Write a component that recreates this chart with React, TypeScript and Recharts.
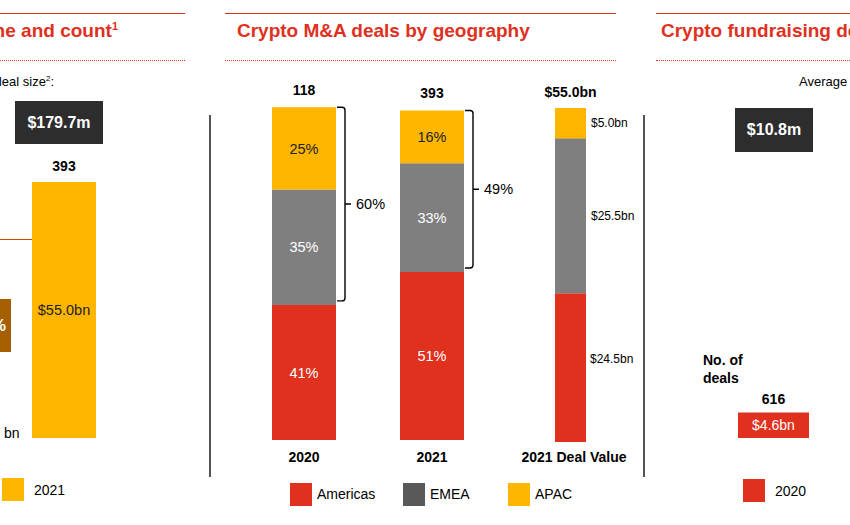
import React from 'react';
import { BarChart, Bar, XAxis, YAxis, LabelList, Rectangle } from 'recharts';

const RED = '#e0301e';
const YELLOW = '#ffb600';
const GRAY = '#7f7f7f';
const EMEA_LEGEND = '#595959';
const DARK = '#2d2d2d';
const BROWN = '#a65f00';
const LINE_ORANGE = '#d04a02';
const FONT = '"Liberation Sans", Arial, sans-serif';

// Middle panel: M&A deals by geography (share of deal count)
const geoCategories = ['2020', '2021'];
const americasShare = [41, 51];
const emeaShare = [35, 33];
const apacShare = [25, 16];
const dealCounts = [118, 393];

// Middle panel: 2021 deal value by geography ($bn)
const valueCategories = ['2021 Deal Value'];
const americasValue = [24.5];
const emeaValue = [25.5];
const apacValue = [5.0];
const valueTotals = ['$55.0bn'];

// Left panel (partial): M&A deal value and count
const mnaCategories = ['2021'];
const mnaValue = [55.0];
const mnaCount = [393];

// Right panel (partial): fundraising deal value and count
const fundCategories = ['2020'];
const fundValue = [4.6];
const fundCount = [616];

const legendItems = [
  { name: 'Americas', color: RED },
  { name: 'EMEA', color: EMEA_LEGEND },
  { name: 'APAC', color: YELLOW },
];

const geoData = geoCategories.map((name, i) => ({
  name,
  americas: americasShare[i],
  emea: emeaShare[i],
  apac: apacShare[i],
  count: dealCounts[i],
}));

const valueData = valueCategories.map((name, i) => ({
  name,
  americas: americasValue[i],
  emea: emeaValue[i],
  apac: apacValue[i],
  total: valueTotals[i],
}));

const mnaData = mnaCategories.map((name, i) => ({ name, value: mnaValue[i], count: mnaCount[i] }));
const fundData = fundCategories.map((name, i) => ({ name, value: fundValue[i], count: fundCount[i] }));

const EmeaWithBracket = (props: any) => {
  const { x, y, width, height, fill, payload } = props;
  const unit = height / payload.emea;
  const top = y - payload.apac * unit;
  const bottom = y + height - 4;
  const x0 = x + width + 1;
  const bx = x + width + 9;
  const mid = (top + bottom) / 2;
  const r = 3;
  const d = `M ${x0} ${top} L ${bx - r} ${top} Q ${bx} ${top} ${bx} ${top + r} L ${bx} ${bottom - r} Q ${bx} ${bottom} ${bx - r} ${bottom} L ${x0} ${bottom} M ${bx} ${mid} L ${bx + 6} ${mid}`;
  return (
    <g>
      <Rectangle x={x} y={y} width={width} height={height} fill={fill} />
      <path d={d} stroke="#000" strokeWidth={1.4} fill="none" />
      <text x={x + width + 20} y={mid} dominantBaseline="central" fontSize={14.5} fill="#000">
        {payload.apac + payload.emea}%
      </text>
    </g>
  );
};

const topLabel = (offset: number) => (p: any) => (
  <text
    x={Number(p.x) + Number(p.width) / 2}
    y={Number(p.y) - offset}
    textAnchor="middle"
    fontWeight="bold"
    fontSize={14}
    fill="#000"
  >
    {p.value}
  </text>
);

const abs = (left: number, top: number, extra: React.CSSProperties = {}): React.CSSProperties => ({
  position: 'absolute',
  left,
  top,
  ...extra,
});

const hLine = (left: number, top: number, width: number, style: string) => (
  <div style={abs(left, top, { width, height: 0, borderTop: style })} />
);

export default function App() {
  return (
    <div
      style={{
        position: 'absolute',
        left: 0,
        top: 0,
        width: 850,
        height: 525,
        overflow: 'hidden',
        background: '#fff',
        fontFamily: FONT,
        color: '#000',
      }}
    >
      {/* header rules */}
      {hLine(0, 13, 185, `1.5px solid ${RED}`)}
      {hLine(225, 13, 391, `1.5px solid ${RED}`)}
      {hLine(656, 13, 194, `1.5px solid ${RED}`)}
      {hLine(0, 60, 185, `1px dotted ${RED}`)}
      {hLine(225, 60, 391, `1px dotted ${RED}`)}
      {hLine(656, 60, 194, `1px dotted ${RED}`)}

      {/* titles */}
      <div style={abs(0, 20, { width: 118, whiteSpace: 'nowrap', direction: 'rtl', textAlign: 'right', color: RED, fontWeight: 'bold', fontSize: 19 })}>
        <span style={{ direction: 'ltr', unicodeBidi: 'embed' }}>
          Crypto M&amp;A deal volume and count<sup style={{ fontSize: 11 }}>1</sup>
        </span>
      </div>
      <div style={abs(237, 20, { whiteSpace: 'nowrap', color: RED, fontWeight: 'bold', fontSize: 19 })}>
        Crypto M&amp;A deals by geography
      </div>
      <div style={abs(661, 20, { whiteSpace: 'nowrap', color: RED, fontWeight: 'bold', fontSize: 19 })}>
        Crypto fundraising deal volume and count
      </div>

      {/* separators */}
      <div style={abs(209, 115, { width: 1.5, height: 362, background: '#555' })} />
      <div style={abs(643, 115, { width: 1.5, height: 362, background: '#555' })} />

      {/* LEFT PANEL (partial) */}
      <div style={abs(0, 74, { width: 54, whiteSpace: 'nowrap', direction: 'rtl', textAlign: 'right', fontSize: 13 })}>
        <span style={{ direction: 'ltr', unicodeBidi: 'embed' }}>
          Average deal size<sup style={{ fontSize: 8 }}>2</sup>:
        </span>
      </div>
      <div style={abs(15, 101, { width: 88, height: 43, background: DARK, color: '#fff', fontWeight: 'bold', fontSize: 16, display: 'flex', alignItems: 'center', justifyContent: 'center' })}>
        $179.7m
      </div>
      {hLine(0, 239, 35, `1.5px solid ${LINE_ORANGE}`)}
      <div style={abs(-60, 299, { width: 71, height: 53, background: BROWN, color: '#fff', fontWeight: 'bold', fontSize: 16, display: 'flex', alignItems: 'center', justifyContent: 'flex-end', paddingRight: 5, boxSizing: 'border-box' })}>
        +233%
      </div>
      <div style={abs(4, 425, { fontSize: 14 })}>bn</div>
      <div style={abs(0, 182 - 30, {})}>
        <BarChart width={128} height={286} data={mnaData} margin={{ top: 30, right: 0, bottom: 0, left: 0 }}>
          <XAxis dataKey="name" hide />
          <YAxis hide domain={[0, 55]} />
          <Bar dataKey="value" fill={YELLOW} barSize={64} isAnimationActive={false}>
            <LabelList dataKey="value" position="center" fontSize={14.5} fill="#222" formatter={(v: any) => `$${Number(v).toFixed(1)}bn`} />
            <LabelList dataKey="count" content={topLabel(11)} />
          </Bar>
        </BarChart>
      </div>
      <div style={abs(2, 478, { width: 22, height: 23, background: YELLOW })} />
      <div style={abs(34, 482, { fontSize: 14 })}>2021</div>

      {/* MIDDLE PANEL: share of deal count */}
      <div style={abs(240, 64, {})}>
        <BarChart width={316} height={406} data={geoData} margin={{ top: 30, right: 60, bottom: 0, left: 0 }}>
          <XAxis
            dataKey="name"
            axisLine={false}
            tickLine={false}
            height={30}
            tickMargin={6}
            tick={{ fontSize: 14, fontWeight: 'bold', fill: '#000' }}
          />
          <YAxis hide domain={[0, 105]} />
          <Bar dataKey="americas" stackId="a" fill={RED} barSize={64} isAnimationActive={false}>
            <LabelList dataKey="americas" position="center" fill="#fff" fontSize={14.5} formatter={(v: any) => `${v}%`} />
          </Bar>
          <Bar dataKey="emea" stackId="a" fill={GRAY} barSize={64} isAnimationActive={false} shape={EmeaWithBracket}>
            <LabelList dataKey="emea" position="center" fill="#fff" fontSize={14.5} formatter={(v: any) => `${v}%`} />
          </Bar>
          <Bar dataKey="apac" stackId="a" fill={YELLOW} barSize={64} isAnimationActive={false}>
            <LabelList dataKey="apac" position="center" fill="#222" fontSize={14.5} formatter={(v: any) => `${v}%`} />
            <LabelList dataKey="count" content={topLabel(12)} />
          </Bar>
        </BarChart>
      </div>

      {/* MIDDLE PANEL: 2021 deal value */}
      <div style={abs(470, 78, {})}>
        <BarChart width={200} height={394} data={valueData} margin={{ top: 30, right: 0, bottom: 0, left: 0 }}>
          <XAxis
            dataKey="name"
            axisLine={false}
            tickLine={false}
            height={30}
            tickMargin={4}
            interval={0}
            tick={{ fontSize: 14, fontWeight: 'bold', fill: '#000', dx: 4 }}
          />
          <YAxis hide domain={[0, 55]} />
          <Bar dataKey="americas" stackId="v" fill={RED} barSize={31} isAnimationActive={false}>
            <LabelList dataKey="americas" position="right" offset={4} dy={-9} fill="#000" fontSize={12} formatter={(v: any) => `$${Number(v).toFixed(1)}bn`} />
          </Bar>
          <Bar dataKey="emea" stackId="v" fill={GRAY} barSize={31} isAnimationActive={false}>
            <LabelList dataKey="emea" position="right" offset={5} fill="#000" fontSize={12} formatter={(v: any) => `$${Number(v).toFixed(1)}bn`} />
          </Bar>
          <Bar dataKey="apac" stackId="v" fill={YELLOW} barSize={31} isAnimationActive={false}>
            <LabelList dataKey="apac" position="right" offset={5} fill="#000" fontSize={12} formatter={(v: any) => `$${Number(v).toFixed(1)}bn`} />
            <LabelList dataKey="total" content={topLabel(11)} />
          </Bar>
        </BarChart>
      </div>

      {/* middle legend */}
      {legendItems.map((item, i) => {
        const lefts = [290, 403, 508];
        return (
          <React.Fragment key={item.name}>
            <div style={abs(lefts[i], 483, { width: 22, height: 23, background: item.color })} />
            <div style={abs(lefts[i] + 27, 486, { fontSize: 14 })}>{item.name}</div>
          </React.Fragment>
        );
      })}

      {/* RIGHT PANEL (partial) */}
      <div style={abs(799, 74, { whiteSpace: 'nowrap', fontSize: 13 })}>
        Average deal size<sup style={{ fontSize: 8 }}>2</sup>:
      </div>
      <div style={abs(735, 108, { width: 78, height: 44, background: DARK, color: '#fff', fontWeight: 'bold', fontSize: 16, display: 'flex', alignItems: 'center', justifyContent: 'center' })}>
        $10.8m
      </div>
      <div style={abs(703, 351, { fontSize: 14, fontWeight: 'bold', lineHeight: '18px' })}>
        No. of
        <br />
        deals
      </div>
      <div style={abs(708.5, 381.5 - 30, {})}>
        <BarChart width={128} height={86.5} data={fundData} margin={{ top: 30, right: 0, bottom: 0, left: 0 }}>
          <XAxis dataKey="name" hide />
          <YAxis hide domain={[0, 10]} />
          <Bar dataKey="value" fill={RED} barSize={71} isAnimationActive={false}>
            <LabelList dataKey="value" position="center" fontSize={14} fill="#fff" formatter={(v: any) => `$${Number(v).toFixed(1)}bn`} />
            <LabelList dataKey="count" content={topLabel(9)} />
          </Bar>
        </BarChart>
      </div>
      <div style={abs(743, 479, { width: 22, height: 23, background: RED })} />
      <div style={abs(775, 483, { fontSize: 14 })}>2020</div>
    </div>
  );
}
